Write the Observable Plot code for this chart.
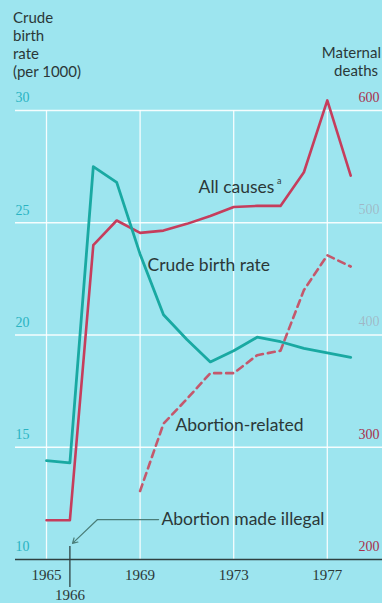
<!DOCTYPE html>
<html>
<head>
<meta charset="utf-8">
<script src="https://cdn.jsdelivr.net/npm/d3@7"></script>
<script src="https://cdn.jsdelivr.net/npm/@observablehq/plot@0.6"></script>
<style>
  html, body { margin: 0; padding: 0; background: #9de5ef; }
  #wrap { position: relative; width: 382px; height: 603px; overflow: hidden; background: #9de5ef; }
  .ttl { position: absolute; font-family: Lato, "Open Sans", sans-serif; font-size: 15px; line-height: 18px; color: #2b3838; }
  #left { left: 13px; top: 8px; }
  #right { right: 1px; top: 43px; text-align: right; }
  #right span { padding-right: 3px; }
</style>
</head>
<body>
<div id="wrap">
  <div id="chart"></div>
  <div class="ttl" id="left">Crude<br>birth<br>rate<br>(per 1000)</div>
  <div class="ttl" id="right">Maternal<br><span>deaths</span></div>
</div>
<script>
// ---- data ----
const years = [1965, 1966, 1967, 1968, 1969, 1970, 1971, 1972, 1973, 1974, 1975, 1976, 1977, 1978];
// Crude birth rate (per 1000), left axis
const birthRate = [14.4, 14.3, 27.5, 26.8, 23.6, 20.9, 19.8, 18.8, 19.3, 19.9, 19.7, 19.4, 19.2, 19.0];
// Maternal deaths, all causes, right axis
const allCauses = [235, 235, 480, 502, 491, 493, 499, 506, 514, 515, 515, 545, 609, 542];
// Maternal deaths, abortion-related (from 1969), right axis
const abortionYears = [1969, 1970, 1971, 1972, 1973, 1974, 1975, 1976, 1977, 1978];
const abortionRelated = [261, 321, 343, 366, 366, 382, 386, 440, 471, 461];
// axis ticks
const leftTicks = [10, 15, 20, 25, 30];
const rightTicks = [200, 300, 400, 500, 600];
const faintRightTicks = [400, 500];
const gridRates = [15, 20, 25, 30];
const xTicks = [1965, 1969, 1973, 1977];
const illegalYear = 1966;

// right axis (200..600 deaths) shares the left axis (10..30)
const deathsToRate = d => 10 + (d - 200) / 20;

const birthData = years.map((y, i) => ({year: y, v: birthRate[i]}));
const allData = years.map((y, i) => ({year: y, v: deathsToRate(allCauses[i])}));
const abortData = abortionYears.map((y, i) => ({year: y, v: deathsToRate(abortionRelated[i])}));

const numFont = '"Liberation Serif", "DejaVu Serif", serif';
const wordFont = 'Lato, "Open Sans", sans-serif';
const ink = "#2b3838";

const plot = Plot.plot({
  width: 382,
  height: 603,
  marginLeft: 15,
  marginRight: 0,
  marginTop: 0,
  marginBottom: 0,
  x: {domain: [1965, 1978], range: [46, 350.2], axis: null},
  y: {domain: [10, 30], range: [559, 110], axis: null},
  style: {background: "#9de5ef", overflow: "visible"},
  marks: [
    // gridlines
    Plot.ruleY(gridRates, {stroke: "#ffffff", strokeWidth: 1.3, strokeOpacity: 0.9}),
    Plot.ruleX(xTicks, {y1: 10, y2: 30, stroke: "#ffffff", strokeWidth: 1.3, strokeOpacity: 0.9}),
    // baseline
    Plot.ruleY([10], {stroke: "#2f4040", strokeWidth: 1.3}),
    // 1966 marker tick
    Plot.ruleX([illegalYear], {y1: 10.58, y2: 8.75, stroke: "#2f4040", strokeWidth: 1.3}),
    // series
    Plot.line(abortData, {x: "year", y: "v", stroke: "#c4586c", strokeWidth: 2.6, strokeDasharray: "7,5"}),
    Plot.line(allData, {x: "year", y: "v", stroke: "#c63d5c", strokeWidth: 2.6}),
    Plot.line(birthData, {x: "year", y: "v", stroke: "#19a9a2", strokeWidth: 2.8}),
    // annotation leader for "Abortion made illegal"
    Plot.line([{x: 1969.79, y: 11.78}, {x: 1967.18, y: 11.78}], {x: "x", y: "y", stroke: "#4a7d78", strokeWidth: 1.2}),
    Plot.arrow([{x1: 1967.18, y1: 11.78, x2: 1966.11, y2: 10.72}], {x1: "x1", y1: "y1", x2: "x2", y2: "y2", stroke: "#4a7d78", strokeWidth: 1.2, headLength: 7}),
    // left axis labels
    Plot.text(leftTicks, {y: d => d, frameAnchor: "left", textAnchor: "start", dx: 0, dy: -12.5, text: d => String(d), fill: "#2ab3c2", fontSize: 14, fontFamily: numFont}),
    // right axis labels
    Plot.text(rightTicks, {y: d => deathsToRate(d), frameAnchor: "right", textAnchor: "end", dx: -3, dy: -13, text: d => String(d), fill: "#a8304c", fontSize: 14, fontFamily: numFont, fillOpacity: d => faintRightTicks.includes(d) ? 0.25 : 1}),
    // x axis labels
    Plot.text(xTicks, {x: d => d, y: 10, dy: 16, text: d => String(d), fill: ink, fontSize: 15, fontFamily: numFont}),
    Plot.text([illegalYear], {x: d => d, y: 10, dy: 36, text: d => String(d), fill: ink, fontSize: 15, fontFamily: numFont}),
    // series labels
    Plot.text(["All causes"], {x: 1971.5, y: 26.57, text: d => d, textAnchor: "start", fill: ink, fontSize: 17.5, fontFamily: wordFont}),
    Plot.text(["a"], {x: 1974.85, y: 26.57, dy: -6, text: d => d, textAnchor: "start", fill: ink, fontSize: 9, fontFamily: wordFont}),
    Plot.text(["Crude birth rate"], {x: 1969.32, y: 23.1, text: d => d, textAnchor: "start", fill: ink, fontSize: 17.5, fontFamily: wordFont}),
    Plot.text(["Abortion-related"], {x: 1970.51, y: 15.97, text: d => d, textAnchor: "start", fill: ink, fontSize: 17.5, fontFamily: wordFont}),
    Plot.text(["Abortion made illegal"], {x: 1969.91, y: 11.78, text: d => d, textAnchor: "start", fill: ink, fontSize: 17.5, fontFamily: wordFont})
  ]
});
document.getElementById("chart").appendChild(plot);
</script>
</body>
</html>
